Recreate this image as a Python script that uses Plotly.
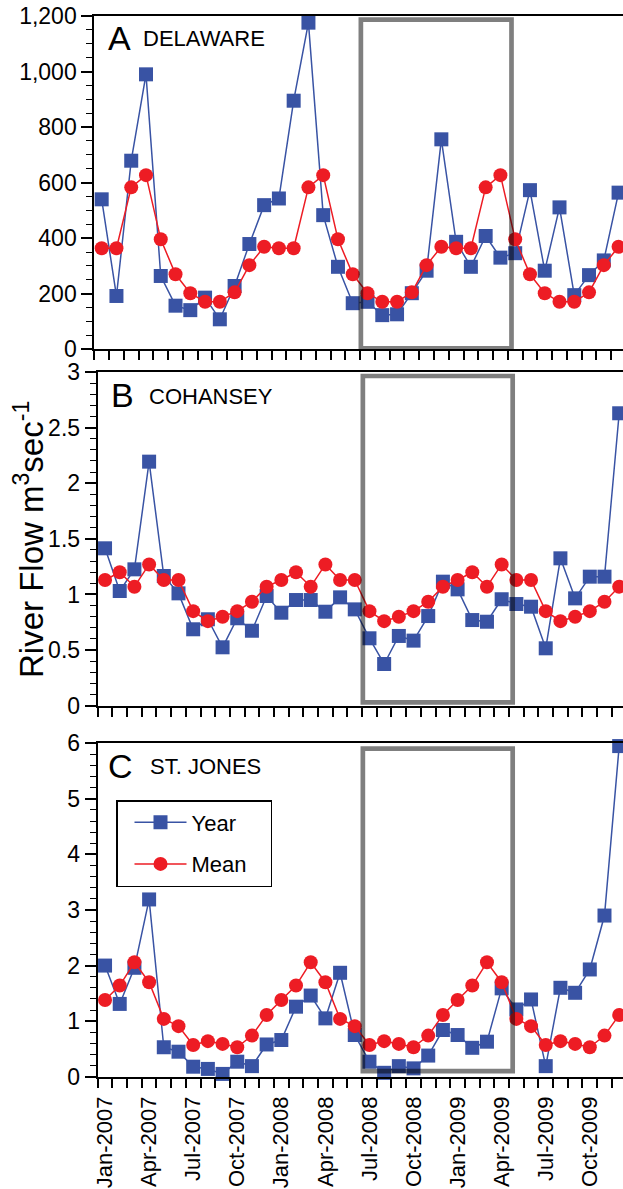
import plotly.graph_objects as go

# ---------------- data ----------------
months = ["Jan-2007", "Feb-2007", "Mar-2007", "Apr-2007", "May-2007", "Jun-2007",
          "Jul-2007", "Aug-2007", "Sep-2007", "Oct-2007", "Nov-2007", "Dec-2007",
          "Jan-2008", "Feb-2008", "Mar-2008", "Apr-2008", "May-2008", "Jun-2008",
          "Jul-2008", "Aug-2008", "Sep-2008", "Oct-2008", "Nov-2008", "Dec-2008",
          "Jan-2009", "Feb-2009", "Mar-2009", "Apr-2009", "May-2009", "Jun-2009",
          "Jul-2009", "Aug-2009", "Sep-2009", "Oct-2009", "Nov-2009", "Dec-2009"]
tick_labels = ["Jan-2007", "Apr-2007", "Jul-2007", "Oct-2007", "Jan-2008", "Apr-2008",
               "Jul-2008", "Oct-2008", "Jan-2009", "Apr-2009", "Jul-2009", "Oct-2009"]

delaware_year = [540, 192, 679, 990, 264, 157, 141, 186, 108, 228, 379, 519,
                 543, 895, 1176, 483, 297, 166, 171, 123, 126, 202, 283, 756,
                 387, 297, 408, 330, 346, 573, 283, 511, 195, 267, 320, 564]
delaware_mean = [364, 364, 583, 627, 396, 270, 202, 171, 171, 205, 303, 369,
                 364, 364, 583, 627, 396, 270, 202, 171, 171, 205, 303, 369,
                 364, 364, 583, 627, 396, 270, 202, 171, 171, 205, 303, 369]

cohansey_year = [1.415, 1.031, 1.226, 2.194, 1.166, 1.010, 0.687, 0.777, 0.525, 0.786, 0.674, 0.986,
                 0.836, 0.950, 0.950, 0.845, 0.974, 0.866, 0.606, 0.375, 0.627, 0.585, 0.806, 1.115,
                 1.046, 0.770, 0.755, 0.957, 0.914, 0.890, 0.516, 1.325, 0.965, 1.160, 1.160, 2.629]
cohansey_mean = [1.13, 1.20, 1.07, 1.27, 1.13, 1.13, 0.85, 0.76, 0.80, 0.85, 0.935, 1.07,
                 1.13, 1.20, 1.07, 1.27, 1.13, 1.13, 0.85, 0.76, 0.80, 0.85, 0.935, 1.07,
                 1.13, 1.20, 1.07, 1.27, 1.13, 1.13, 0.85, 0.76, 0.80, 0.85, 0.935, 1.07]

stjones_year = [2.00, 1.31, 1.96, 3.19, 0.53, 0.45, 0.18, 0.14, 0.05, 0.27, 0.19, 0.58,
                0.66, 1.26, 1.46, 1.05, 1.87, 0.75, 0.27, 0.07, 0.19, 0.15, 0.38, 0.84,
                0.75, 0.52, 0.63, 1.59, 1.21, 1.39, 0.19, 1.60, 1.51, 1.93, 2.90, 5.95]
stjones_mean = [1.38, 1.64, 2.06, 1.70, 1.04, 0.91, 0.57, 0.64, 0.59, 0.53, 0.74, 1.11,
                1.38, 1.64, 2.06, 1.70, 1.04, 0.91, 0.57, 0.64, 0.59, 0.53, 0.74, 1.11,
                1.38, 1.64, 2.06, 1.70, 1.04, 0.91, 0.57, 0.64, 0.59, 0.53, 0.74, 1.11]

panels = [("A", "DELAWARE", delaware_year, delaware_mean),
          ("B", "COHANSEY", cohansey_year, cohansey_mean),
          ("C", "ST. JONES", stjones_year, stjones_mean)]

# highlighted period: Jul-2008 .. Apr-2009 (in month index units)
box_start, box_end = 17.55, 27.75

# ---------------- layout helpers ----------------
W, H = 623, 1189
def px(x):
    return x / W
def py(y):
    return 1 - y / H

x_idx = list(range(len(months)))
label_vals = [months.index(m) for m in tick_labels]
boundaries = [i - 0.5 for i in range(len(months) + 1)]

BLUE = "#3953a4"
RED = "#ed1c24"
FONT = "Liberation Sans, Arial, Helvetica, sans-serif"
NBSP = "\u00a0"

fig = go.Figure()

for k, (letter, name, yr, mn) in enumerate(panels):
    ax = "" if k == 0 else str(k + 1)
    fig.add_trace(go.Scatter(
        x=x_idx, y=yr, mode="lines+markers", name="Year" + NBSP * 3,
        legendgroup="year", showlegend=(k == 2),
        line=dict(color=BLUE, width=1.5),
        marker=dict(symbol="square", size=14, color=BLUE),
        cliponaxis=False, xaxis="x" + ax, yaxis="y" + ax))
    fig.add_trace(go.Scatter(
        x=x_idx, y=mn, mode="lines+markers", name="Mean" + NBSP * 3,
        legendgroup="mean", showlegend=(k == 2),
        line=dict(color=RED, width=1.5),
        marker=dict(symbol="circle", size=14, color=RED),
        cliponaxis=False, xaxis="x" + ax, yaxis="y" + ax))

# panel geometry in pixels: (left, top, bottom, x_range_end)
geom = [(94.3, 16.0, 349.3, 35.3),
        (97.7, 372.0, 705.7, 35.26),
        (97.7, 743.3, 1076.7, 35.26)]
yranges = [(0, 1200, 200, 50, ",d"), (0, 3, 0.5, 0.1, ""), (0, 6, 1, 0.2, "")]
box_insets = [(0.003, 0.989), (0.010, 0.988), (0.017, 0.984)]

layout_axes = {}
for k in range(3):
    left, top, bottom, xend = geom[k]
    lo, hi, dt, mdt, fmt = yranges[k]
    xname = "xaxis" if k == 0 else f"xaxis{k+1}"
    yname = "yaxis" if k == 0 else f"yaxis{k+1}"
    ysuffix = "y" if k == 0 else f"y{k+1}"
    xsuffix = "x" if k == 0 else f"x{k+1}"
    layout_axes[xname] = dict(
        domain=[px(left), 1], range=[-0.5, xend], anchor=ysuffix,
        showgrid=False, zeroline=False,
        showline=True, linecolor="black", linewidth=2, mirror=True,
        tickmode="array", tickvals=label_vals, ticktext=tick_labels,
        ticks="outside", ticklen=9, tickcolor="rgba(0,0,0,0)",
        showticklabels=(k == 2), tickangle=-90,
        tickfont=dict(family=FONT, size=22, color="black"),
        minor=dict(tickmode="array", tickvals=boundaries, ticks="outside",
                   ticklen=9, tickwidth=1.5, tickcolor="black", showgrid=False),
    )
    layout_axes[yname] = dict(
        domain=[py(bottom), py(top)], range=[lo, hi], anchor=xsuffix,
        showgrid=False, zeroline=False,
        showline=True, linecolor="black", linewidth=2, mirror=False,
        dtick=dt, tick0=0, tickformat=fmt,
        ticks="outside", ticklen=11, tickwidth=1.5, tickcolor="black",
        tickfont=dict(family=FONT, size=23, color="black"),
        minor=dict(dtick=mdt, tick0=0, ticks="outside", ticklen=6,
                   tickwidth=1.2, tickcolor="black", showgrid=False),
    )

shapes = []
for k in range(3):
    xs = "x" if k == 0 else f"x{k+1}"
    ys = "y" if k == 0 else f"y{k+1}"
    y0, y1 = box_insets[k]
    shapes.append(dict(type="rect", xref=xs, yref=ys + " domain",
                       x0=box_start, x1=box_end, y0=y0, y1=y1,
                       line=dict(color="rgba(0,0,0,0.5)", width=4.7),
                       fillcolor="rgba(0,0,0,0)", layer="above"))

annotations = []
letter_pos = [(106, 38), (109, 395), (106, 766)]
name_pos = [(141, 38), (147, 396), (148, 766)]
for k, (letter, name, _, _) in enumerate(panels):
    lx, ly = letter_pos[k]
    nx, ny = name_pos[k]
    annotations.append(dict(text=letter, xref="paper", yref="paper",
                            x=px(lx), y=py(ly), xanchor="left", yanchor="middle",
                            showarrow=False,
                            font=dict(family=FONT, size=34, color="black")))
    annotations.append(dict(text=name, xref="paper", yref="paper",
                            x=px(nx), y=py(ny), xanchor="left", yanchor="middle",
                            showarrow=False,
                            font=dict(family=FONT, size=22, color="black")))

annotations.append(dict(text="River Flow m<sup>3</sup>sec<sup>-1</sup>",
                        xref="paper", yref="paper", x=px(29), y=py(540),
                        xanchor="center", yanchor="middle", textangle=-90,
                        showarrow=False,
                        font=dict(family=FONT, size=33, color="black")))

fig.update_layout(
    template="none",
    width=W, height=H,
    margin=dict(l=0, r=0, t=0, b=0, pad=0),
    paper_bgcolor="white", plot_bgcolor="white",
    font=dict(family=FONT, color="black"),
    showlegend=True,
    legend=dict(x=px(116), y=py(800), xanchor="left", yanchor="top",
                bgcolor="white", bordercolor="black", borderwidth=1.5,
                font=dict(family=FONT, size=22, color="black"),
                traceorder="grouped", tracegroupgap=10, itemwidth=52,
                indentation=12),
    shapes=shapes, annotations=annotations,
    **layout_axes,
)

fig.write_html("out.html", config={"displayModeBar": False},
               post_script="document.body.style.margin='0';")
